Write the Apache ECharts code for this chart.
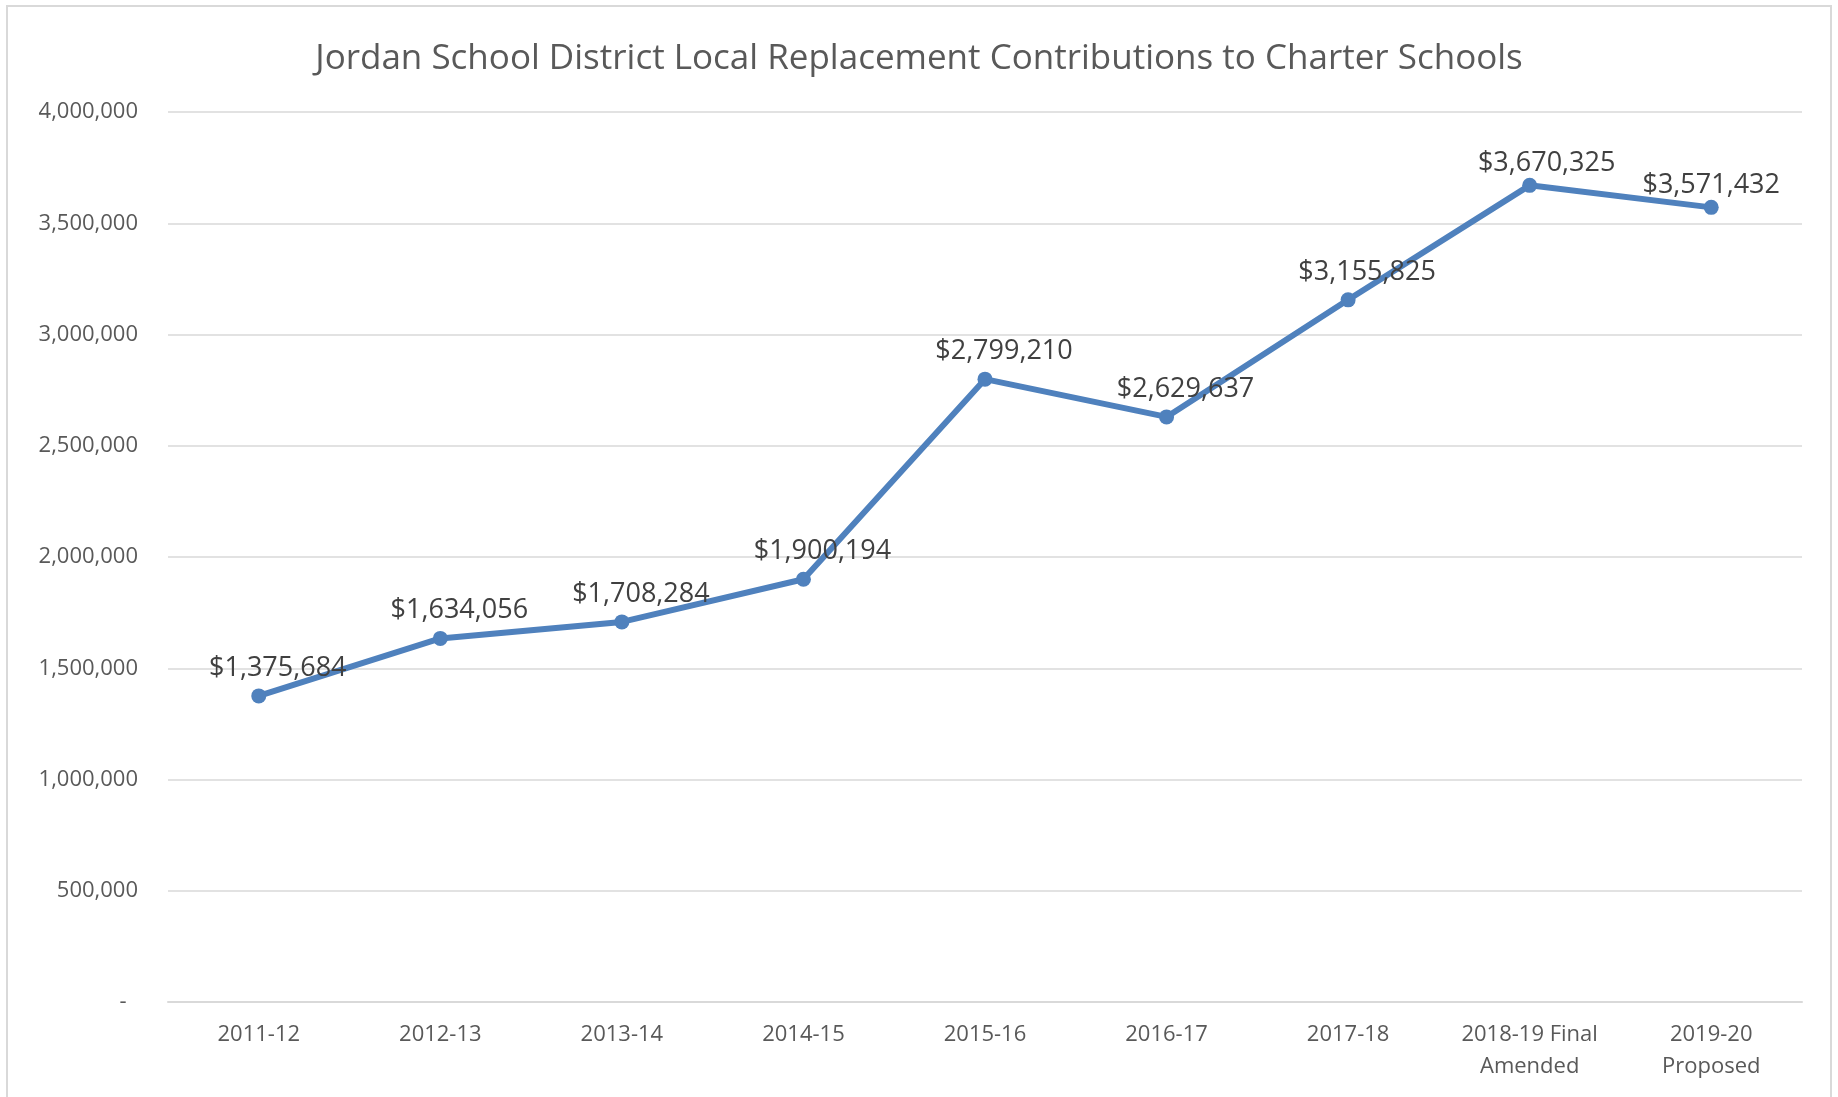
<!DOCTYPE html>
<html>
<head>
<meta charset="utf-8">
<title>Jordan School District Local Replacement Contributions</title>
<script src="https://cdn.jsdelivr.net/npm/echarts@6.0.0/dist/echarts.min.js"></script>
<style>
    html, body { margin: 0; padding: 0; background: #fff; }
    #frame {
        position: absolute; left: 6px; top: 5px; width: 1826px; height: 1120px;
        border: 2px solid #d9d9d9; box-sizing: border-box;
    }
    #chartRoot { position: absolute; left: 0; top: 0; width: 1838px; height: 1097px; }
</style>
</head>
<body>
<div id="frame"></div>
<div id="chartRoot"></div>
<script>
    // 数据
    const categories = ["2011-12", "2012-13", "2013-14", "2014-15", "2015-16", "2016-17", "2017-18", "2018-19 Final\nAmended", "2019-20\nProposed"];
    const contributions = [1375684, 1634056, 1708284, 1900194, 2799210, 2629637, 3155825, 3670325, 3571432];
    const yTicks = [0, 500000, 1000000, 1500000, 2000000, 2500000, 3000000, 3500000, 4000000];

    const fontFamily = "'Open Sans', 'Noto Sans', sans-serif";
    const fmt = v => v.toLocaleString("en-US");

    let myChart = echarts.init(document.querySelector("#chartRoot"));

    // 最后两个标签离点更近，最后一个不右移
    let seriesData = contributions.map((v, i) => {
        let item = { value: v };
        if (i >= 7) {
            item.label = { distance: 1, offset: i === 8 ? [0, 0] : [17, 0] };
        }
        return item;
    });

    let option = {
        animation: false,
        title: {
            text: "Jordan School District Local Replacement Contributions to Charter Schools",
            left: "center",
            top: 33,
            textStyle: {
                color: "#595959",
                fontFamily,
                fontWeight: "normal",
                fontSize: 35,
                lineHeight: 42
            }
        },
        grid: {
            left: 168,
            right: 36,
            top: 112,
            bottom: 95,
            containLabel: false,
            outerBoundsMode: "none"
        },
        xAxis: {
            type: "category",
            data: categories,
            boundaryGap: true,
            axisTick: { show: false },
            axisLine: { lineStyle: { color: "#d9d9d9", width: 2 } },
            axisLabel: {
                color: "#595959",
                fontFamily,
                fontSize: 22,
                lineHeight: 32,
                margin: 17,
                interval: 0
            }
        },
        yAxis: {
            type: "value",
            min: yTicks[0],
            max: yTicks[yTicks.length - 1],
            interval: yTicks[1] - yTicks[0],
            axisLine: { show: false },
            axisTick: { show: false },
            splitLine: { lineStyle: { color: "#d9d9d9", width: 1.5 } },
            axisLabel: {
                color: "#595959",
                fontFamily,
                fontSize: 22,
                margin: 30,
                formatter: v => v === 0 ? "-  " : fmt(v)
            }
        },
        series: [{
            type: "line",
            data: seriesData,
            symbol: "circle",
            symbolSize: 15,
            lineStyle: { color: "#4f81bd", width: 6 },
            itemStyle: { color: "#4f81bd" },
            label: {
                show: true,
                position: "top",
                distance: 7,
                offset: [19, 0],
                color: "#404040",
                fontFamily,
                fontSize: 27,
                formatter: p => "$" + fmt(p.value)
            },
            z: 3
        }]
    };
    myChart.setOption(option, true);
</script>
</body>
</html>
